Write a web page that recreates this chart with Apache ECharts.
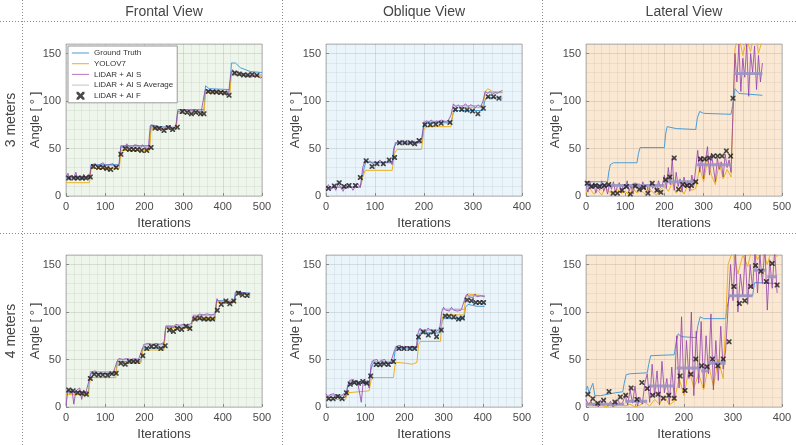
<!DOCTYPE html>
<html><head><meta charset="utf-8">
<script src="https://cdn.jsdelivr.net/npm/echarts@6/dist/echarts.min.js"></script>
<style>html,body{margin:0;padding:0;background:#fff}#c{width:796px;height:445px}</style>
</head><body><div id="c"></div><script>
// ---------- labels ----------
const views = ['Frontal View', 'Oblique View', 'Lateral View'];
const distances = ['3 meters', '4 meters'];
const seriesNames = ['Ground Truth', 'YOLOV7', 'LiDAR + AI S', 'LiDAR + AI S Average', 'LiDAR + AI F'];
const xAxisName = 'Iterations';
const yAxisName = 'Angle [ ° ]';
const xMaxes = [500, 400, 500, 500, 500, 400];
const yMax = 160;
const sampleStep = 5;      // iteration spacing of LiDAR + AI S samples
const yoloStepLat = 10;    // iteration spacing of YOLOV7 samples in lateral views

// ---------- Frontal 3 m ----------
const gtF3 = [[0,19],[60,19],[64,33],[136,33],[140,53],[213,53],[217,75],[240,73],[281,72],[285,91],[352,91],[356,116],[365,113],[418,112],[422,140],[432,140],[445,135],[470,131],[500,130]];
const yoloF3 = [[0,14],[60,14],[64,29],[136,29],[140,48],[213,48],[217,71],[281,70],[285,87],[352,87],[356,109],[418,108],[422,129],[450,127],[500,126]];
const aisF3 = [20,24,17,22,19,25,18,21,17,23,19,22,18,
 33,31,34,30,33,31,35,32,30,33,31,34,30,32,33,
 52,54,51,55,52,53,51,54,52,53,50,54,51,52,50,
 74,72,74,71,73,72,74,70,73,72,74,71,72,73,
 89,90,88,91,89,90,88,90,89,91,88,90,89,89,
 112,110,111,109,111,110,109,111,110,109,110,108,109,
 128,133,130,129,131,128,127,129,126,128,125,127,126,125,127,124,125];
const avgF3 = [[0,62,20],[64,137,32],[139,214,52],[216,282,72.5],[284,354,89.5],[356,419,110],[421,500,127.5]];
const aifF3 = [[7,19],[20,19],[30,19],[41,19],[51,19],[62,20],[70,31],[83,30],[94,30],[104,29],[114,28],[128,30],[140,44],[151,50],[162,49],[172,49],[182,49],[193,48],[206,48],[217,51],[227,71.5],[238,71],[250,69],[261,72],[272,70],[284,72.5],[297,89],[309,88],[320,86.5],[331,88],[343,86.5],[352,86.5],[363,110],[374,109.5],[384,109.5],[395,109],[405,108.5],[416,106],[430,129.5],[442,128.5],[453,127.5],[464,127.5],[475,128],[487,127]];

// ---------- Oblique 3 m ----------
const gtO3 = [[0,9],[68,9],[72,13],[78,30],[82,37],[90,35],[135,35],[138,50],[142,56],[195,56],[199,72],[203,77],[255,77],[259,86],[263,90],[320,90],[324,100],[328,104],[360,103]];
const yoloO3 = [[0,9],[70,9],[75,20],[80,27],[135,27],[140,45],[145,49],[195,49],[200,70],[205,73],[255,73],[260,90],[265,93],[320,93],[325,110],[330,113],[340,110],[360,109]];
const aisO3 = [8,12,7,11,6,13,9,5,12,8,11,6,10,13,9,
 30,38,35,37,34,36,35,38,34,36,35,37,33,
 52,57,55,58,56,54,57,56,58,55,57,60,
 77,79,78,80,77,79,78,80,79,78,80,85,
 97,94,96,93,95,97,94,96,95,93,96,94,99,
 110,108,110,107,109,108,110,111];
const avgO3 = [[0,70,9.5],[76,136,35.5],[140,196,56],[199,256,78.5],[259,321,95],[324,360,109]];
const aifO3 = [[5,8],[17,10.5],[27,14],[37,10],[47,11],[60,11],[70,19.5],[82,37],[94,31],[104,34],[117,34],[129,38],[140,40.5],[150,56],[161,56],[172,56],[181,55],[190,58.5],[202,75],[213,75],[224,75.5],[235,76.5],[253,77.5],[264,91],[277,91],[288,90.5],[299,89.5],[310,86.5],[321,92.5],[331,104.5],[342,104.5],[353,103]];

// ---------- Lateral 3 m ----------
const gtL3 = [[0,15],[55,15],[58,25],[62,33],[70,35],[130,35],[134,45],[138,51],[200,51],[203,65],[207,73],[230,71],[280,70],[284,82],[290,89],[300,87],[370,86],[374,95],[380,113],[390,108],[450,106]];
const yoloL3 = [3,8,2,6,1,9,4,2,7,3,5,1,8,3,6,2,9,4,1,7,10,5,14,3,9,2,12,6,8,30,15,38,22,12,35,18,28,20,155,170,148,165,152,175,150,165];
const aisL3 = [12,4,15,8,14,3,12,6,16,5,11,2,13,7,15,4,10,14,3,12,8,16,5,11,2,14,9,13,4,15,7,12,3,14,8,11,5,16,9,12,
 22,8,30,12,40,6,25,10,18,4,20,9,16,5,22,11,13,
 48,25,42,18,38,52,22,45,30,15,40,28,36,20,44,30,38,25,
 90,150,120,160,110,145,125,160,105,150,130,158,112,148,120,140];
const avgL3 = [[0,200,11],[200,280,15],[282,372,33],[378,450,129]];
const aifL3 = [[3,13.4],[14,10],[24,11],[35,10],[47,11],[58,12],[69,3],[80,3],[92,6],[103,10],[113,2],[125,10.5],[136,7],[147,9],[158,3],[169,13.4],[181,6],[191,4],[203,17],[214,20],[225,40],[236,7],[247,12],[258,11],[269,11],[280,15],[292,39],[303,39],[314,40],[325,42],[336,42],[347,42],[358,47.5],[369,42],[375,103]];

// ---------- Frontal 4 m ----------
const gtF4 = [[0,16],[57,16],[62,35],[127,35],[131,48],[191,48],[196,62],[250,62],[254,84],[319,84],[323,92],[380,92],[384,112],[405,112],[428,110],[432,121],[470,120]];
const yoloF4 = [[0,13],[57,13],[62,31],[127,31],[131,46],[191,46],[196,60],[250,60],[254,83],[319,83],[323,93],[380,93],[384,110],[430,110],[434,120],[470,118]];
const aisF4 = [2,18,14,19,3,17,15,20,8,18,14,16,
 30,37,36,38,35,37,36,38,35,37,36,38,35,37,
 48,51,49,50,48,51,49,50,48,51,49,50,52,
 62,66,64,67,65,66,64,67,65,66,64,68,
 85,87,85,86,84,87,85,86,84,87,85,86,85,88,
 96,97,95,98,96,97,95,98,96,97,95,98,
 114,111,113,110,112,109,111,110,112,113,
 122,120,121,119,120,118,119,117];
const avgF4 = [[0,57,15],[61,127,37],[131,191,50],[196,251,65.5],[254,320,85.5],[323,381,96.5],[384,431,111.5],[433,470,119.5]];
const aifF4 = [[7,18],[18,17],[30,15],[41,14.4],[52,13.4],[62,30],[72,34.5],[83,33.8],[94,33.8],[106,33.5],[117,34.9],[128,35.6],[140,46],[151,45],[162,48],[172,48],[182,48],[196,54],[206,61.6],[218,63.7],[230,63.7],[242,61.6],[253,64.4],[264,81],[274,79.6],[284,82.7],[295,81.7],[306,84.9],[316,82.7],[329,92.6],[341,93.7],[352,92.6],[363,92.6],[374,92.6],[386,101.8],[396,108],[408,111.6],[418,108.8],[428,111.6],[440,119.7],[450,118],[462,117.3]];

// ---------- Oblique 4 m ----------
const gtO4 = [[0,10],[50,10],[55,20],[60,25],[110,25],[115,40],[120,46],[172,46],[176,58],[180,62],[232,62],[236,74],[240,78],[292,78],[296,90],[300,93],[352,93],[356,105],[362,108],[385,106],[405,106]];
const yoloO4 = [[0,8],[50,8],[55,15],[60,17],[110,17],[115,28],[120,31],[172,31],[176,44],[180,47],[205,46],[220,45],[232,47],[236,65],[240,69],[292,69],[296,92],[300,97],[352,97],[356,115],[362,119],[405,117]];
const aisO4 = [14,10,13,11,14,9,13,10,12,14,11,
 22,28,26,29,25,28,26,5,27,24,28,20,
 45,49,47,50,46,49,47,50,46,48,47,49,
 60,64,62,65,61,64,62,63,61,64,62,63,
 78,83,80,82,79,83,81,80,82,79,81,82,
 100,105,102,104,101,105,102,104,101,103,102,104,
 115,119,116,118,115,119,116,118,117,119,116];
const avgO4 = [[0,52,12],[55,111,26.5],[115,172,48],[175,232,63],[235,292,81],[295,352,103],[355,405,117]];
const aifO4 = [[7,8.8],[18,8.8],[30,11],[41,8.8],[52,15],[62,24],[72,25.7],[83,25],[94,26.8],[104,25],[114,32.7],[128,44.7],[138,44.4],[148,45.4],[159,44.7],[172,48],[186,61.6],[199,61.6],[214,61.6],[226,61.6],[236,73.6],[248,79],[261,75.7],[274,79],[282,74],[294,81],[304,95.8],[314,95.4],[326,94.7],[338,92.6],[348,93.7],[360,112.6],[371,111.9],[382,110],[392,110],[402,110]];

// ---------- Lateral 4 m ----------
const gtL4 = [[0,18],[3,22],[6,15],[10,20],[14,25],[18,12],[30,12],[60,15],[75,16],[78,25],[82,34],[90,35],[125,36],[128,45],[132,54],[180,55],[183,65],[188,77],[195,74],[225,73],[228,85],[233,95],[240,93],[285,93],[288,105],[293,117],[340,117],[344,131],[390,130]];
const yoloL4 = [2,5,1,3,0,2,1,4,1,3,0,2,5,1,8,3,12,2,6,30,12,40,20,35,18,45,22,50,30,150,165,140,160,148,170,155,165,150,168,158];
const aisL4 = [8,2,6,1,5,0,7,2,4,1,6,0,3,8,2,5,
 12,2,18,4,22,1,10,3,25,
 35,5,45,12,38,2,48,15,30,3,42,
 10,75,20,95,15,70,30,100,12,80,25,
 90,20,75,35,98,18,70,28,85,40,60,
 105,150,112,165,100,140,118,160,108,150,125,165,120,160,130,170,102,155,125,165,120];
const avgL4 = [[0,78,3],[80,125,6],[127,180,22],[185,235,41],[235,250,38],[250,285,46],[290,340,117],[342,368,144],[370,390,137]];
const aifL4 = [[4,13.4],[14,8.8],[24,3.9],[36,7],[47,16.2],[59,5.3],[70,10.6],[81,12.3],[92,20],[104,8],[114,25.7],[125,19.4],[136,12.3],[147,13.4],[158,9.2],[169,12.3],[180,9.2],[192,32.7],[202,17.3],[214,34.5],[224,50.4],[236,43.3],[247,42.3],[258,50.4],[269,43.3],[280,50.4],[292,68.7],[302,126.8],[313,109],[324,111.9],[336,126.8],[346,149],[357,143],[368,132],[380,151],[390,128.5]];

// ---------- helpers ----------
function seq(vals, step) { return vals.map((v, i) => [i * step, v]); }
function segs(list) { const out = []; list.forEach(s => { out.push([s[0], s[2]], [s[1], s[2]], [s[1], '-']); }); return out; }

const panels = [
  {gt: gtF3, yolo: yoloF3, ais: aisF3, avg: avgF3, aif: aifF3, bg: '#eef5ea'},
  {gt: gtO3, yolo: yoloO3, ais: aisO3, avg: avgO3, aif: aifO3, bg: '#e9f4fb'},
  {gt: gtL3, yolo: seq(yoloL3, yoloStepLat), ais: aisL3, avg: avgL3, aif: aifL3, bg: '#fbe8d3'},
  {gt: gtF4, yolo: yoloF4, ais: aisF4, avg: avgF4, aif: aifF4, bg: '#eef5ea'},
  {gt: gtO4, yolo: yoloO4, ais: aisO4, avg: avgO4, aif: aifO4, bg: '#e9f4fb'},
  {gt: gtL4, yolo: seq(yoloL4, yoloStepLat), ais: aisL4, avg: avgL4, aif: aifL4, bg: '#fbe8d3'}
];

const colLeft = [66, 326, 586];
const rowTop = [44, 255];
const plotW = 196, plotH = 152;
const FONT = 'Liberation Sans, Arial, Helvetica, sans-serif';
const colors = {gt: '#4a9ed8', yolo: '#edb120', ais: '#9140ab', avg: '#9a93c2', aif: '#1a1a1a'};
const xMark = 'path://M0,0 L2.4,0 L5,2.6 L7.6,0 L10,0 L10,2.4 L7.4,5 L10,7.6 L10,10 L7.6,10 L5,7.4 L2.4,10 L0,10 L0,7.6 L2.6,5 L0,2.4 Z';
const lineIcon = 'path://M0,0 L100,0 L100,6 L0,6 Z';

const grids = [], xAxes = [], yAxes = [], series = [];
panels.forEach((p, i) => {
  const c = i % 3, r = Math.floor(i / 3);
  grids.push({left: colLeft[c], top: rowTop[r], width: plotW, height: plotH, show: true,
    backgroundColor: p.bg, borderColor: '#bdbdbd', borderWidth: 1});
  xAxes.push({type: 'value', gridIndex: i, min: 0, max: xMaxes[i], interval: 100,
    name: xAxisName, nameLocation: 'middle', nameGap: 21,
    nameTextStyle: {fontSize: 13, color: '#404040', fontFamily: FONT},
    axisLine: {show: false}, axisTick: {inside: true, length: 3, lineStyle: {color: '#8a8a8a'}},
    axisLabel: {fontSize: 11, color: '#4a4a4a', margin: 5, fontFamily: FONT},
    splitLine: {show: true, lineStyle: {color: 'rgba(0,0,0,0.10)', width: 1}},
    minorTick: {show: false, splitNumber: 5},
    minorSplitLine: {show: true, lineStyle: {color: 'rgba(0,0,0,0.05)', width: 1}}});
  yAxes.push({type: 'value', gridIndex: i, min: 0, max: yMax, interval: 50,
    name: yAxisName, nameLocation: 'middle', nameGap: 24, nameRotate: 90, nameMoveOverlap: false,
    nameTextStyle: {fontSize: 13, color: '#404040', fontFamily: FONT},
    axisLine: {show: false}, axisTick: {inside: true, length: 3, lineStyle: {color: '#8a8a8a'}},
    axisLabel: {fontSize: 11, color: '#4a4a4a', margin: 5, fontFamily: FONT, showMaxLabel: false},
    splitLine: {show: true, lineStyle: {color: 'rgba(0,0,0,0.10)', width: 1}},
    minorTick: {show: false, splitNumber: 5},
    minorSplitLine: {show: true, lineStyle: {color: 'rgba(0,0,0,0.05)', width: 1}}});
  const lat = (c === 2);
  series.push({name: seriesNames[0], type: 'line', xAxisIndex: i, yAxisIndex: i, data: p.gt,
    symbol: 'none', lineStyle: {color: colors.gt, width: 1}, itemStyle: {color: colors.gt}, z: 2});
  series.push({name: seriesNames[1], type: 'line', xAxisIndex: i, yAxisIndex: i, data: p.yolo,
    symbol: 'none', lineStyle: {color: colors.yolo, width: 1}, itemStyle: {color: colors.yolo}, z: 3});
  series.push({name: seriesNames[2], type: 'line', xAxisIndex: i, yAxisIndex: i, data: seq(p.ais, sampleStep),
    symbol: 'none', lineStyle: {color: colors.ais, width: 1, opacity: 0.8}, itemStyle: {color: '#b57acb'}, z: 4});
  series.push({name: seriesNames[3], type: 'line', xAxisIndex: i, yAxisIndex: i, data: segs(p.avg),
    symbol: 'none', connectNulls: false, lineStyle: {color: colors.avg, width: lat ? 3 : 1.5, opacity: lat ? 0.9 : 0.6}, itemStyle: {color: '#c4c4c4'}, z: 5});
  series.push({name: seriesNames[4], type: 'scatter', xAxisIndex: i, yAxisIndex: i, data: p.aif,
    symbol: xMark, symbolSize: 5, itemStyle: {color: colors.aif}, z: 6});
});

const graphics = [];
const dot = {stroke: '#8c8c8c', lineWidth: 1, lineDash: [1, 2]};
graphics.push({type: 'line', shape: {x1: 0, y1: 21.5, x2: 796, y2: 21.5}, style: dot, silent: true});
graphics.push({type: 'line', shape: {x1: 0, y1: 233.5, x2: 796, y2: 233.5}, style: dot, silent: true});
[22.5, 282.5, 542.5].forEach(x => graphics.push({type: 'line', shape: {x1: x, y1: 0, x2: x, y2: 445}, style: dot, silent: true}));
const headerX = [164, 424, 684];
views.forEach((t, k) => graphics.push({type: 'text', x: headerX[k], y: 12,
  style: {text: t, font: '14px ' + FONT, fill: '#454545', textAlign: 'center', textVerticalAlign: 'middle'}}));
const rowY = [120, 331];
distances.forEach((t, k) => graphics.push({type: 'text', x: 11, y: rowY[k], rotation: Math.PI / 2,
  style: {text: t, font: '14px ' + FONT, fill: '#454545', textAlign: 'center', textVerticalAlign: 'middle'}}));

const legendData = seriesNames.map((n, k) => ({name: n, icon: k < 4 ? lineIcon : xMark}));

const chart = echarts.init(document.getElementById('c'), null, {renderer: 'canvas'});
chart.setOption({
  animation: false,
  backgroundColor: '#ffffff',
  grid: grids, xAxis: xAxes, yAxis: yAxes, series: series,
  legend: {data: legendData, left: 68, top: 46, orient: 'vertical', itemWidth: 17, itemHeight: 8, itemGap: 2.7,
    padding: [3, 4, 3, 4], backgroundColor: '#ffffff', borderColor: '#9a9a9a', borderWidth: 1,
    textStyle: {fontSize: 8, color: '#333', fontFamily: FONT}},
  graphic: graphics
});
</script></body></html>
